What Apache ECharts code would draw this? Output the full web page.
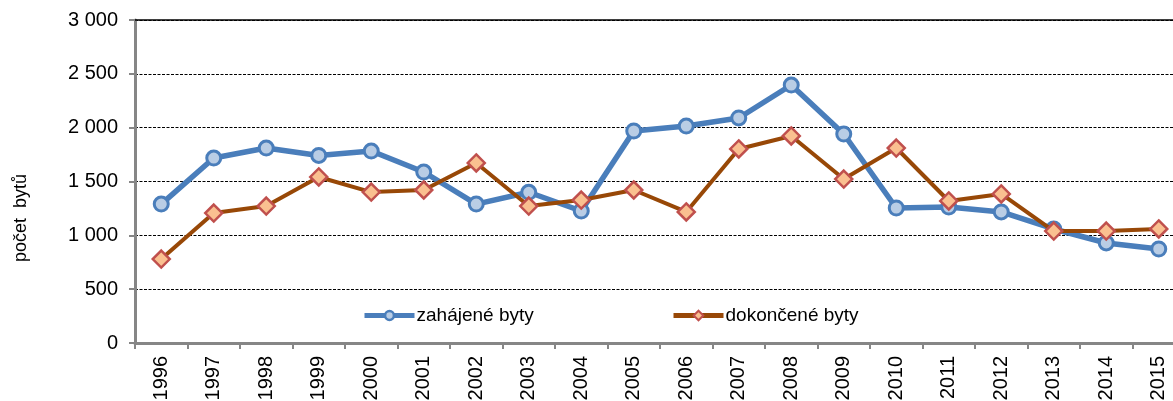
<!DOCTYPE html>
<html><head><meta charset="utf-8">
<script src="https://cdn.jsdelivr.net/npm/echarts@6/dist/echarts.min.js"></script>
<style>html,body{margin:0;padding:0;background:#fff;overflow:hidden}#c{width:1195px;height:401px}</style>
</head><body><div id="c"></div>
<script>
const years = ['1996','1997','1998','1999','2000','2001','2002','2003','2004','2005','2006','2007','2008','2009','2010','2011','2012','2013','2014','2015'];
const zahajene = [1290,1718,1811,1742,1783,1588,1290,1400,1226,1969,2015,2090,2396,1941,1254,1263,1217,1059,929,873];
const dokoncene = [780,1207,1272,1542,1402,1421,1672,1272,1328,1421,1217,1802,1923,1523,1811,1319,1384,1040,1040,1059];
const seriesNames = ['zahájené byty','dokončené byty'];
const yAxisName = 'počet  bytů';
const yTicks = {min:0, max:3000, interval:500};

const font = 'Liberation Sans, Arial, sans-serif';
const blue = {line:'#4a7ebb', fill:'#b9cde5'};
const brown = {line:'#984807', fill:'#fac090', border:'#c0504d'};
const chart = echarts.init(document.getElementById('c'));
chart.setOption({
  animation:false,
  backgroundColor:'#fff',
  grid:{left:135, top:20, width:1050, height:323, containLabel:false, outerBoundsMode:'none'},
  legend:[
    {data:[{name:seriesNames[0], lineStyle:{width:5, color:blue.line}, itemStyle:{color:blue.fill, borderColor:blue.line, borderWidth:2.5}}],
     left:362, top:306, padding:0, itemWidth:50, itemHeight:11, itemGap:0,
     textStyle:{fontFamily:font, fontSize:19, color:'#000', padding:[0,0,0,-3]}},
    {data:[{name:seriesNames[1], lineStyle:{width:5, color:brown.line}, itemStyle:{color:brown.fill, borderColor:brown.border, borderWidth:2}}],
     left:671, top:306, padding:0, itemWidth:50, itemHeight:12, itemGap:0,
     textStyle:{fontFamily:font, fontSize:19, color:'#000', padding:[0,0,0,-3]}}
  ],
  graphic:[{type:'text', x:21, y:218, rotation:Math.PI/2,
    style:{text:yAxisName, fontFamily:font, fontSize:18, fill:'#000', align:'center', verticalAlign:'middle'}}],
  xAxis:[{
    type:'category', data:years, boundaryGap:true,
    axisLine:{lineStyle:{color:'#868686', width:3}},
    axisTick:{show:true, length:6, lineStyle:{color:'#868686', width:2}},
    axisLabel:{rotate:90, fontFamily:font, fontSize:20, color:'#000', margin:13},
    splitLine:{show:false}
  },{
    type:'category', data:years, position:'top', gridIndex:0,
    axisLine:{show:true, lineStyle:{color:'#000', width:1.5}},
    axisTick:{show:false}, axisLabel:{show:false}
  }],
  yAxis:{
    type:'value', min:yTicks.min, max:yTicks.max, interval:yTicks.interval,
    axisLine:{show:true, lineStyle:{color:'#868686', width:3}},
    axisTick:{show:true, length:6, lineStyle:{color:'#868686', width:2}},
    axisLabel:{fontFamily:font, fontSize:20, color:'#000', margin:17,
      formatter:v=>String(v).replace(/\B(?=(\d{3})+(?!\d))/g,' ')},
    splitLine:{show:true, lineStyle:{color:'#000', type:[3,1.5], width:1}}
  },
  series:[
    {name:seriesNames[0], type:'line', data:zahajene, symbol:'circle', symbolSize:14,
     lineStyle:{color:blue.line, width:5.5}, itemStyle:{color:blue.fill, borderColor:blue.line, borderWidth:3}, z:3},
    {name:seriesNames[1], type:'line', data:dokoncene, symbol:'diamond', symbolSize:17,
     lineStyle:{color:brown.line, width:4}, itemStyle:{color:brown.fill, borderColor:brown.border, borderWidth:2.5}, z:4}
  ]
});
</script></body></html>
